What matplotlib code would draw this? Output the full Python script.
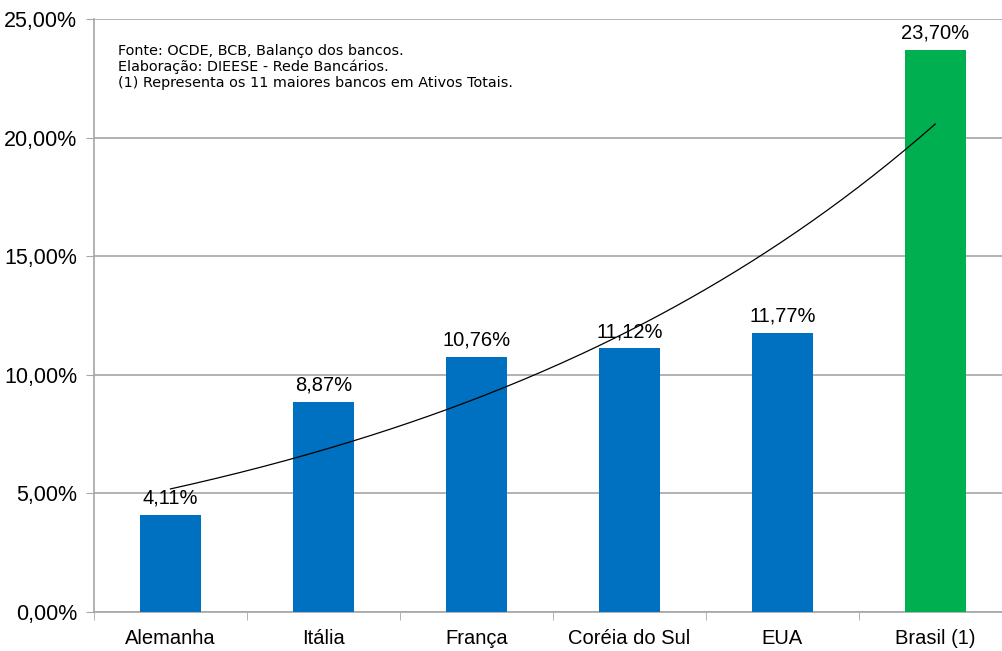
import matplotlib

matplotlib.use("Agg")
import matplotlib.pyplot as plt  # noqa: E402
import numpy as np  # noqa: E402
from matplotlib.ticker import FuncFormatter, FixedLocator  # noqa: E402

paises = ["Alemanha", "Itália", "França", "Coréia do Sul", "EUA", "Brasil (1)"]
valores = [4.11, 8.87, 10.76, 11.12, 11.77, 23.70]
cores = ["#0070C0", "#0070C0", "#0070C0", "#0070C0", "#0070C0", "#00B050"]
nota = ("Fonte: OCDE, BCB, Balanço dos bancos.\n"
        "Elaboração: DIEESE - Rede Bancários.\n"
        "(1) Representa os 11 maiores bancos em Ativos Totais.")

plt.rcParams["font.family"] = ["Liberation Sans", "DejaVu Sans"]

fig = plt.figure(figsize=(10.03, 6.51), dpi=100)
ax = fig.add_axes([0.0937, 0.0599, 0.915, 0.9109])

x = np.arange(len(paises))
ax.bar(x, valores, width=0.4, color=cores, zorder=3)
for xi, v in zip(x, valores):
    ax.text(xi, v + 0.3, f"{v:.2f}%".replace(".", ","), ha="center", va="bottom",
            fontsize=14.5, zorder=4)

# exponential trendline (Excel style), fitted on the data
b, ln_a = np.polyfit(x + 1, np.log(valores), 1)
xt = np.linspace(0, len(paises) - 1, 200)
ax.plot(xt, np.exp(ln_a + b * (xt + 1)), color="black", lw=0.9, zorder=5)

ax.set_xlim(-0.5, len(paises) - 0.5)
ax.set_ylim(0, 25)
ax.set_yticks(np.arange(0, 26, 5))
ax.yaxis.set_major_formatter(FuncFormatter(lambda v, _: f"{v:.2f}%".replace(".", ",")))
ax.grid(axis="y", color="#a6a6a6", lw=1.2, zorder=0)
ax.set_xticks(x)
ax.set_xticklabels(paises)
ax.xaxis.set_minor_locator(FixedLocator(np.arange(-0.5, len(paises), 1)))
ax.tick_params(axis="x", which="major", length=0, pad=12, labelsize=14.5)
ax.tick_params(axis="x", which="minor", length=6, color="#a6a6a6", direction="out")
ax.tick_params(axis="y", length=6, color="#a6a6a6", pad=6, labelsize=15.5)
for s in ("top", "right"):
    ax.spines[s].set_visible(False)
for s in ("left", "bottom"):
    ax.spines[s].set_color("#a6a6a6")
    ax.spines[s].set_linewidth(1.2)

ax.text(0.026, 0.958, nota, transform=ax.transAxes, ha="left", va="top",
        fontsize=10.4, family="DejaVu Sans", linespacing=1.15, zorder=6)

fig.savefig("out.png", dpi=100)
plt.close(fig)
